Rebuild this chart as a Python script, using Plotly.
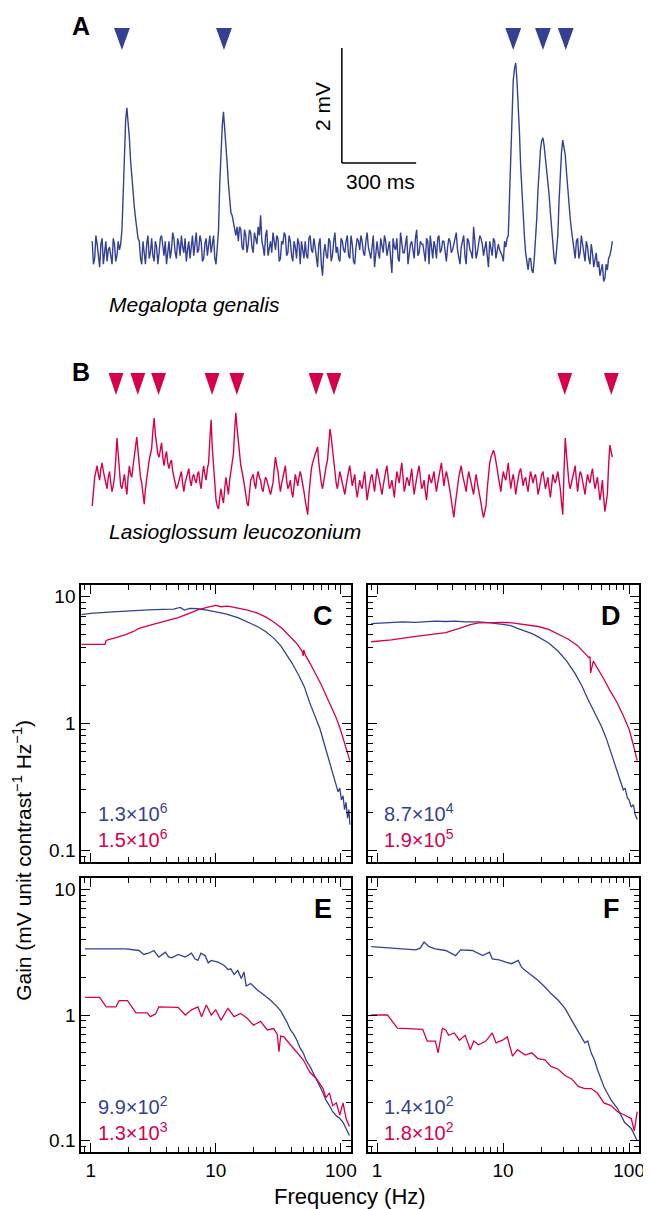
import plotly.graph_objects as go

PAGE_W, PAGE_H = 651, 1209
BODY = 8  # default page body margin in the written html
W, H = PAGE_W - BODY, PAGE_H - BODY
BLUE = "rgb(52,64,148)"
RED = "rgb(214,0,76)"
FONT = "Liberation Sans, Arial, Helvetica, sans-serif"

# ---------------- Panel A / B traces (mV) ----------------
# main samples every 10 ms, plus the in-between samples (t + 5 ms) read separately
sample_ms = 10
trace_A_mv = [
    0.1, -0.2, 0.05, -0.35, 0.15, -0.1, -0.25, 0.0, -0.3, 0.05, -0.15, -0.05,
    0.3, 1.6, 2.42, 1.9, 1.2, 0.7, 0.35, 0.1, -0.3, -0.1,
    0.05, -0.2, 0.15, -0.25, 0.0, -0.1, 0.2, -0.15, -0.3, 0.1, -0.05, 0.15, -0.2, 0.05,
    0.2, -0.1, -0.25, 0.1, 0.0, -0.15, 0.25, -0.05, 0.1, -0.2, 0.15, 0.05, -0.1, 0.2, -0.3,
    0.3, 1.7, 2.35, 1.8, 1.1, 0.6, 0.45, 0.2,
    0.1, 0.3, -0.05, 0.2, 0.05, 0.25, -0.1, 0.15, 0.35, 0.55,
    0.0, 0.2, -0.15, 0.1, 0.25, -0.05, 0.15, -0.2, 0.05, 0.2,
    -0.1, 0.1, -0.25, 0.0, 0.15, -0.3, -0.05, 0.1, -0.2, 0.2,
    -0.1, 0.0, -0.35, 0.15, -0.5, 0.05, -0.2, 0.1, -0.15, 0.25,
    0.0, -0.25, 0.1, -0.1, 0.2, -0.2, 0.05, -0.3, 0.15, -0.05,
    0.1, -0.15, 0.25, -0.1, 0.0, -0.35, 0.1, -0.2, 0.05, 0.2,
    -0.15, 0.1, -0.45, 0.0, 0.15, -0.25, 0.05, -0.1, 0.2, -0.05,
    0.1, -0.2, 0.3, -0.1, 0.05, -0.15, 0.15, -0.3, 0.0, 0.1,
    -0.2, 0.2, -0.05, 0.1, -0.25, 0.15, -0.1, 0.05, 0.25, -0.15,
    0.0, 0.2, -0.3, 0.1, -0.1, 0.35, -0.2, 0.05, 0.15, -0.15,
    0.1, -0.35, 0.0, 0.15, -0.2, 0.05, -0.1, -0.25, 0.0,
    0.2, 1.6, 2.9, 3.2, 2.5, 1.4, 0.5, -0.1, -0.4, -0.2, -0.45, 0.1, 1.0, 1.7, 1.9,
    1.55, 1.2, 0.6, 0.0, -0.3, 0.2, 1.3, 1.86, 1.6, 1.0, 0.5, 0.1,
    -0.2, 0.15, -0.1, 0.05, -0.25, 0.0, -0.3, -0.1, -0.2, -0.35, -0.5, -0.3, -0.55,
    -0.4, -0.15, 0.1,
]
trace_A_mid_mv = [
    -0.3, 0.2, -0.15, 0.05, -0.3, 0.1, -0.05, -0.2, 0.15, -0.25, 0.1, 0.05,
    0.9, 2.2, 2.2, 1.5, 0.95, 0.5, 0.15, -0.2, 0.1, -0.3,
    0.2, -0.1, -0.15, 0.1, -0.3, 0.15, -0.05, 0.1, -0.1, -0.2, 0.25, -0.1, 0.15, -0.15,
    0.0, 0.15, -0.05, -0.2, 0.2, 0.05, -0.1, 0.2, -0.25, 0.05, -0.15, 0.2, 0.1, -0.2, 0.0,
    1.1, 2.1, 2.1, 1.45, 0.8, 0.55, 0.3, 0.35,
    0.35, 0.0, 0.3, -0.1, 0.3, 0.0, 0.25, 0.05, 0.2, 0.1,
    -0.15, 0.3, 0.0, -0.1, 0.1, 0.2, -0.25, 0.1, 0.25, -0.15,
    0.2, -0.15, 0.1, -0.2, 0.05, 0.1, -0.2, -0.15, 0.15, -0.05,
    0.15, -0.25, 0.05, -0.3, -0.1, -0.15, 0.15, -0.25, 0.1, -0.1,
    -0.2, 0.15, -0.05, 0.1, -0.15, 0.2, -0.25, 0.0, 0.1, 0.2,
    -0.1, 0.1, 0.0, -0.2, 0.2, -0.15, -0.1, 0.15, -0.1, 0.1,
    0.0, -0.2, 0.15, -0.05, -0.2, 0.25, -0.1, 0.1, -0.3, 0.05,
    -0.05, 0.15, -0.15, 0.1, 0.05, -0.25, 0.1, 0.2, -0.2, 0.0,
    0.15, -0.1, 0.1, -0.15, 0.0, 0.1, -0.05, 0.15, -0.05, -0.3,
    0.1, -0.15, 0.15, -0.05, -0.2, 0.1, -0.1, 0.2, 0.05, -0.05,
    -0.15, 0.1, -0.15, 0.1, -0.1, -0.05, -0.15, 0.1, 0.15,
    0.8, 2.3, 3.1, 2.9, 2.0, 0.9, 0.2, -0.3, -0.2, -0.4, -0.2, 0.5, 1.4, 1.85, 1.75,
    1.4, 0.9, 0.3, -0.2, -0.1, 0.8, 1.65, 1.75, 1.3, 0.75, 0.3, -0.1,
    0.1, -0.2, 0.2, -0.15, 0.1, -0.2, 0.05, -0.35, -0.1, -0.25, -0.4, -0.6, -0.3,
    -0.2, -0.05,
]
trace_B_mv = [
    -0.4, 0.1, 0.3, 0.05, 0.35, 0.1, -0.1, 0.2, -0.15, 0.1,
    0.78, 0.2, -0.1, 0.15, -0.2, 0.3, 0.1, 0.45, 0.8, 0.3,
    0.0, -0.37, 0.1, 0.4, 0.6, 1.13, 0.6, 0.45, 0.7, 0.3,
    0.55, 0.25, 0.4, 0.1, -0.1, 0.05, 0.2, -0.15, 0.1, 0.25,
    -0.05, 0.15, 0.0, 0.2, -0.1, 0.3, 0.05, 0.35, 1.1, 0.3,
    -0.3, -0.45, -0.1, -0.35, 0.1, -0.2, 0.2, 0.5, 1.22, 0.7,
    0.3, 0.1, -0.2, -0.4, 0.05, 0.15, -0.1, 0.2, 0.05, -0.15,
    0.1, -0.05, -0.2, 0.0, 0.45, 0.2, -0.15, 0.1, 0.3, -0.1,
    0.05, -0.25, 0.15, -0.05, 0.2, 0.0, -0.3, -0.55, 0.1, 0.35,
    0.5, 0.63, 0.1, -0.1, 0.2, 0.4, 0.94, 0.6, 0.15, -0.1,
    0.2, 0.0, -0.2, 0.1, 0.3, -0.05, 0.15, -0.25, 0.05, -0.1,
    0.2, -0.3, 0.0, 0.15, -0.15, 0.25, 0.05, -0.2, 0.1, 0.3,
    -0.1, 0.05, -0.25, 0.2, 0.0, 0.35, -0.15, 0.1, -0.05, 0.25,
    -0.2, 0.1, 0.3, -0.1, 0.05, -0.3, 0.15, 0.0, 0.2, -0.15,
    0.1, 0.35, -0.05, 0.2, 0.0, -0.3, -0.6, -0.2, 0.1, 0.3,
    0.05, -0.15, 0.2, 0.0, -0.2, 0.15, -0.1, -0.35, -0.6, -0.4,
    0.2, 0.45, 0.57, 0.4, 0.1, -0.15, 0.2, 0.05, 0.35, -0.1,
    0.15, -0.2, 0.1, 0.25, -0.05, 0.1, -0.15, 0.2, 0.0, 0.15,
    -0.2, 0.05, 0.2, -0.1, 0.1, -0.25, 0.15, 0.0, 0.2, -0.1,
    -0.55, 0.78, 0.2, -0.1, 0.1, 0.3, -0.15, 0.2, 0.05, -0.2,
    0.15, 0.0, 0.25, -0.1, 0.1, -0.3, 0.05, -0.5, -0.2, 0.66,
    0.45,
]
trace_B_mid_mv = [
    -0.1, 0.2, 0.15, 0.25, 0.2, -0.05, 0.1, 0.0, -0.05, 0.4,
    0.5, -0.05, 0.05, -0.05, 0.1, 0.15, 0.3, 0.6, 0.55, 0.1,
    -0.2, -0.1, 0.25, 0.5, 0.9, 0.85, 0.5, 0.6, 0.45, 0.45,
    0.35, 0.35, 0.2, -0.05, -0.05, 0.15, 0.0, 0.0, 0.2, 0.05,
    0.1, 0.05, 0.15, 0.0, 0.15, 0.15, 0.25, 0.75, 0.6, -0.05,
    -0.4, -0.25, -0.25, -0.1, -0.05, 0.05, 0.35, 0.9, 0.95, 0.45,
    0.2, -0.05, -0.35, -0.15, 0.1, 0.0, 0.1, 0.1, -0.1, 0.0,
    0.05, -0.15, -0.1, 0.25, 0.3, 0.0, 0.0, 0.2, 0.05, -0.05,
    -0.15, -0.05, 0.05, 0.1, 0.1, -0.15, -0.45, -0.2, 0.25, 0.45,
    0.55, 0.35, 0.0, 0.05, 0.3, 0.7, 0.8, 0.35, 0.0, 0.05,
    0.1, -0.1, -0.05, 0.2, 0.1, 0.05, -0.1, -0.1, -0.05, 0.05,
    -0.05, -0.15, 0.1, 0.0, 0.05, 0.15, -0.1, -0.05, 0.2, 0.1,
    -0.05, -0.1, 0.0, 0.1, 0.2, 0.1, -0.05, 0.05, 0.1, 0.0,
    -0.05, 0.2, 0.1, -0.05, -0.15, -0.05, 0.05, 0.1, 0.0, 0.0,
    0.25, 0.15, 0.1, 0.1, -0.15, -0.45, -0.4, -0.05, 0.2, 0.15,
    -0.05, 0.05, 0.1, -0.1, 0.0, 0.0, -0.25, -0.5, -0.5, -0.1,
    0.35, 0.5, 0.5, 0.25, -0.05, 0.05, 0.1, 0.2, 0.1, 0.05,
    0.0, -0.05, 0.2, 0.1, 0.05, -0.05, 0.05, 0.1, 0.1, 0.0,
    -0.1, 0.15, 0.05, 0.0, -0.1, -0.05, 0.05, 0.1, 0.05, -0.35,
    0.2, 0.5, 0.0, 0.0, 0.2, 0.05, 0.05, 0.15, -0.1, 0.0,
    0.05, 0.15, 0.05, 0.0, -0.1, -0.15, -0.25, -0.35, 0.3, 0.55,
]
events_A_ms = [120, 532, 1700, 1820, 1912]
events_B_ms = [96, 184, 268, 484, 584, 904, 976, 1908, 2096]

# ---------------- Frequency responses (Hz, gain) ----------------
C_blue_f = [0.84, 1.0, 1.5, 2.0, 2.9, 3.8, 4.6, 5.2, 5.6, 6.2, 7.2, 8.5, 10, 12, 15, 18, 21.5, 25, 29,
            33, 37, 41, 46, 51, 56, 62, 68, 74, 81, 86, 92, 95, 98, 101, 104, 107, 110, 113, 116, 118]
C_blue_g = [7.2, 7.35, 7.55, 7.7, 7.85, 7.9, 7.95, 8.2, 7.8, 8.05, 8.0, 7.8, 7.6, 7.3, 6.8, 6.3, 5.8, 5.3, 4.7,
            4.1, 3.46, 2.95, 2.4, 1.95, 1.48, 1.15, 0.91, 0.68, 0.5, 0.42, 0.33, 0.29, 0.31, 0.25, 0.27, 0.21,
            0.24, 0.18, 0.21, 0.16]
C_red_f = [0.84, 1.3, 1.33, 1.41, 1.6, 1.9, 2.2, 2.43, 2.9, 3.5, 4.2, 5.0, 6.0, 7.2, 8.5, 10, 11, 12.5, 15, 18,
           21.5, 25, 29, 34, 39.5, 45, 49, 50, 50.5, 52, 57, 64, 70, 76, 84, 92, 99, 106, 112, 118]
C_red_g = [4.2, 4.2, 4.5, 4.6, 4.75, 5.0, 5.3, 5.6, 5.9, 6.2, 6.5, 6.8, 7.3, 7.85, 8.2, 8.5, 8.3, 8.4, 8.1, 7.8,
           7.4, 6.9, 6.3, 5.6, 4.8, 4.2, 3.7, 3.4, 3.8, 3.45, 2.95, 2.4, 2.0, 1.67, 1.35, 1.1, 0.9, 0.72, 0.62, 0.51]

D_blue_f = [0.9, 1.2, 1.6, 2.0, 2.4, 2.9, 3.5, 4.2, 5.0, 6.4, 8.0, 9.9, 11.5, 13, 15, 17, 19, 23, 27, 32, 37,
            42, 47, 53, 60, 66, 72, 79, 86, 90, 93, 97, 100, 104, 108, 112, 116]
D_blue_g = [6.1, 6.2, 6.3, 6.25, 6.35, 6.4, 6.35, 6.4, 6.3, 6.3, 6.2, 6.0, 5.9, 5.6, 5.3, 5.1, 4.8, 4.3, 3.75,
            3.1, 2.5, 2.0, 1.56, 1.22, 0.96, 0.76, 0.59, 0.45, 0.34, 0.3, 0.31, 0.26, 0.25, 0.22, 0.23, 0.19, 0.176]
D_red_f = [0.9, 1.3, 1.9, 2.5, 3.5, 4.5, 5.5, 6.4, 8, 10, 11.8, 15, 19, 23, 27, 33, 39, 44, 48, 49, 49.5, 52,
           56, 63, 71, 80, 90, 100, 108, 116]
D_red_g = [4.4, 4.55, 4.8, 5.0, 5.2, 5.6, 6.0, 6.2, 6.25, 6.25, 6.2, 6.0, 5.8, 5.5, 5.1, 4.6, 4.1, 3.6, 3.3,
           3.35, 2.5, 3.1, 2.75, 2.24, 1.8, 1.47, 1.15, 0.9, 0.68, 0.51]

E_blue_f = [0.9, 1.9, 2.43, 2.66, 2.9, 3.2, 3.5, 3.95, 4.2, 4.45, 5.0, 5.7, 6.4, 6.8, 7.2, 7.6, 8.2, 8.7, 9.2,
            10.4, 11.7, 12.5, 13.2, 14, 15, 16, 16.8, 17.5, 19, 21.5, 24.3, 27.4, 31, 33, 35, 37, 39.5, 42,
            44.5, 47, 50, 53, 56.6, 60, 64, 68, 72, 76, 81, 86, 92, 98, 104, 110, 117]
E_blue_g = [3.36, 3.36, 3.26, 3.03, 3.1, 3.26, 2.89, 3.16, 2.9, 2.85, 3.03, 2.89, 3.1, 2.8, 2.72, 3.1, 2.97, 2.6,
            2.72, 2.63, 2.48, 2.3, 2.33, 2.1, 2.26, 1.95, 2.2, 1.7, 1.78, 1.58, 1.44, 1.31, 1.16, 1.08, 0.97,
            0.88, 0.76, 0.7, 0.63, 0.55, 0.5, 0.43, 0.39, 0.35, 0.31, 0.27, 0.24, 0.21, 0.19, 0.17, 0.158,
            0.15, 0.14, 0.125, 0.11]
E_red_f = [0.9, 1.18, 1.33, 1.59, 1.69, 1.97, 2.3, 2.83, 3.0, 3.3, 3.5, 5.0, 5.7, 6.4, 7.2, 7.7, 8.4, 9.2, 10,
           11, 12.5, 14, 15.8, 17.9, 20, 22.8, 25.8, 29, 31, 32, 33, 35, 39.5, 44.5, 50, 56.6, 64, 72, 76, 81,
           86, 92, 98, 104, 110, 117]
E_red_g = [1.38, 1.38, 1.16, 1.16, 1.3, 1.3, 1.04, 1.04, 0.97, 1.02, 1.16, 1.15, 1.0, 1.1, 1.16, 0.97, 1.2, 1.0,
           1.1, 0.91, 1.13, 0.97, 1.03, 0.94, 0.83, 0.89, 0.76, 0.78, 0.7, 0.51, 0.68, 0.67, 0.58, 0.5, 0.44,
           0.35, 0.31, 0.26, 0.22, 0.24, 0.19, 0.2, 0.16, 0.2, 0.15, 0.13]

F_blue_f = [0.9, 2.03, 2.2, 2.36, 2.58, 2.9, 3.5, 4.2, 4.6, 5.7, 6.9, 7.8, 8.2, 9.3, 10.5, 11.7, 13.2, 14, 15,
            16.9, 18.9, 21.5, 24, 27.4, 31, 35, 39.5, 44.5, 47, 50, 53, 56, 63, 72, 81, 92, 104, 116]
F_blue_g = [3.5, 3.3, 3.4, 3.8, 3.5, 3.36, 3.26, 2.97, 3.3, 3.26, 2.97, 3.16, 2.8, 2.75, 2.63, 2.56, 2.72, 2.4,
            2.26, 2.07, 1.89, 1.67, 1.48, 1.31, 1.13, 0.91, 0.74, 0.6, 0.62, 0.5, 0.44, 0.37, 0.27, 0.21,
            0.18, 0.14, 0.125, 0.1]
F_red_f = [0.9, 1.21, 1.45, 2.3, 2.5, 2.9, 3.05, 3.3, 3.5, 3.7, 4.1, 4.5, 5.0, 5.5, 5.85, 6.4, 7.3, 8.2, 8.8,
           9.9, 10.8, 11.9, 13, 15, 16.9, 18.9, 21.5, 24, 27.4, 31, 35, 39.5, 44.5, 50, 56, 63, 72, 81, 92,
           104, 110, 116]
F_red_g = [1.0, 1.0, 0.785, 0.77, 0.62, 0.62, 0.5, 0.785, 0.76, 0.69, 0.72, 0.63, 0.69, 0.53, 0.62, 0.58, 0.62,
           0.72, 0.6, 0.63, 0.67, 0.47, 0.53, 0.48, 0.5, 0.45, 0.44, 0.39, 0.37, 0.33, 0.31, 0.27, 0.26, 0.26,
           0.24, 0.2, 0.19, 0.17, 0.16, 0.15, 0.12, 0.17]

panel_letters = ["C", "D", "E", "F"]
gain_labels = [("1.3×10<sup>6</sup>", "1.5×10<sup>6</sup>"),
               ("8.7×10<sup>4</sup>", "1.9×10<sup>5</sup>"),
               ("9.9×10<sup>2</sup>", "1.3×10<sup>3</sup>"),
               ("1.4×10<sup>2</sup>", "1.8×10<sup>2</sup>")]
y_ticks = [0.1, 1, 10]
y_ticktext = ["0.1", "1", "10"]
x_ticks = [1, 10, 100]
x_ticktext = ["1", "10", "100"]


def px_x(p):
    return (p - BODY) / W


def px_y(p):
    return 1 - (p - BODY) / H


annots = []


def label(xp, yp, text, size=19, color="black", xanchor="center", yanchor="middle", angle=0):
    annots.append(dict(x=px_x(xp), y=px_y(yp), xref="paper", yref="paper", text=text,
                       xanchor=xanchor, yanchor=yanchor, textangle=angle, showarrow=False,
                       font=dict(size=size, family=FONT, color=color)))


def interleave(main, mid, step):
    t, v = [], []
    for i, val in enumerate(main):
        t.append(i * step)
        v.append(val)
        if i < len(mid):
            t.append(i * step + step / 2)
            v.append(mid[i])
    return t, v


fig = go.Figure()

# ---- invisible axes for traces A and B (px 93 -> t = 0, 4 ms per px) ----
ms_per_px = 4.0
t_lo, t_hi = (40 - 93) * ms_per_px, (650 - 93) * ms_per_px
fig.update_layout(
    xaxis=dict(domain=[px_x(40), px_x(650)], range=[t_lo, t_hi], visible=False, anchor="y"),
    yaxis=dict(domain=[px_y(300), px_y(20)], range=[(247 - 300) / 57.5, (247 - 20) / 57.5],
               visible=False, anchor="x"),
    xaxis2=dict(domain=[px_x(40), px_x(650)], range=[t_lo, t_hi], visible=False, anchor="y2"),
    yaxis2=dict(domain=[px_y(545), px_y(360)], range=[(483 - 545) / 57.5, (483 - 360) / 57.5],
                visible=False, anchor="x2"),
)

tA, vA = interleave(trace_A_mv, trace_A_mid_mv, sample_ms)
tB, vB = interleave(trace_B_mv, trace_B_mid_mv, sample_ms)
fig.add_trace(go.Scatter(x=tA, y=vA, mode="lines", line=dict(color=BLUE, width=1.4),
                         xaxis="x", yaxis="y", hoverinfo="skip"))
fig.add_trace(go.Scatter(x=tB, y=vB, mode="lines", line=dict(color=RED, width=1.4),
                         xaxis="x2", yaxis="y2", hoverinfo="skip"))


def tri_path(events, top, tip, hw):
    xs, ys = [], []
    for e in events:
        xs += [e - hw, e + hw, e, e - hw, None]
        ys += [top, top, tip, top, None]
    return xs, ys


xs, ys = tri_path(events_A_ms, (247 - 28) / 57.5, (247 - 50) / 57.5, 32)
fig.add_trace(go.Scatter(x=xs, y=ys, mode="lines", fill="toself", fillcolor=BLUE,
                         line=dict(width=0, color=BLUE), xaxis="x", yaxis="y", hoverinfo="skip"))
xs, ys = tri_path(events_B_ms, (483 - 373) / 57.5, (483 - 395) / 57.5, 30)
fig.add_trace(go.Scatter(x=xs, y=ys, mode="lines", fill="toself", fillcolor=RED,
                         line=dict(width=0, color=RED), xaxis="x2", yaxis="y2", hoverinfo="skip"))

# scale bar (2 mV, 300 ms)
bar_t0 = 1008
bar_v0 = (247 - 163) / 57.5
fig.add_shape(type="line", xref="x", yref="y", x0=bar_t0, x1=bar_t0, y0=bar_v0, y1=bar_v0 + 2,
              line=dict(color="black", width=1.5))
fig.add_shape(type="line", xref="x", yref="y", x0=bar_t0, x1=bar_t0 + 300, y0=bar_v0, y1=bar_v0,
              line=dict(color="black", width=1.5))

label(326, 107, "2 mV", size=21, angle=-90)
label(384, 181, "300 ms", size=21)
label(108, 304, "<i>Megalopta genalis</i>", size=21, xanchor="left")
label(108, 531, "<i>Lasioglossum leucozonium</i>", size=21, xanchor="left")
label(82, 26, "<b>A</b>", size=25)
label(82, 372, "<b>B</b>", size=25)

# ---- frequency panels ----
panels = [
    dict(x=(82, 354), y=(585, 862), curves=((C_blue_f, C_blue_g), (C_red_f, C_red_g)), left=True, bottom=False),
    dict(x=(371, 645), y=(585, 862), curves=((D_blue_f, D_blue_g), (D_red_f, D_red_g)), left=False, bottom=False),
    dict(x=(82, 354), y=(878, 1152), curves=((E_blue_f, E_blue_g), (E_red_f, E_red_g)), left=True, bottom=True),
    dict(x=(371, 645), y=(878, 1152), curves=((F_blue_f, F_blue_g), (F_red_f, F_red_g)), left=False, bottom=True),
]

for k, p in enumerate(panels):
    n = k + 3
    xa, ya = f"xaxis{n}", f"yaxis{n}"
    common = dict(type="log", showline=True, linewidth=2, linecolor="black", mirror="allticks",
                  ticks="inside", ticklen=9, tickwidth=1.2, tickcolor="black", showgrid=False,
                  zeroline=False, tickfont=dict(size=19, family=FONT, color="black"),
                  minor=dict(ticks="inside", ticklen=5, tickwidth=1, tickcolor="black",
                             dtick="D1", showgrid=False))
    fig.update_layout({
        xa: dict(common, domain=[px_x(p["x"][0]), px_x(p["x"][1])], range=[-0.075, 2.079],
                 anchor=f"y{n}", tickvals=x_ticks, ticktext=x_ticktext,
                 showticklabels=p["bottom"]),
        ya: dict(common, domain=[px_y(p["y"][1]), px_y(p["y"][0])], range=[-1.09, 1.09],
                 anchor=f"x{n}", tickvals=y_ticks, ticktext=y_ticktext,
                 showticklabels=p["left"]),
    })
    (bf, bg), (rf, rg) = p["curves"]
    fig.add_trace(go.Scatter(x=bf, y=bg, mode="lines", line=dict(color=BLUE, width=1.3),
                             xaxis=f"x{n}", yaxis=f"y{n}", hoverinfo="skip"))
    fig.add_trace(go.Scatter(x=rf, y=rg, mode="lines", line=dict(color=RED, width=1.3),
                             xaxis=f"x{n}", yaxis=f"y{n}", hoverinfo="skip"))
    label(p["x"][1] - 28, p["y"][0] + 31, f"<b>{panel_letters[k]}</b>", size=27)
    lb, lr = gain_labels[k]
    label(p["x"][0] + 15, p["y"][0] + 227, lb, size=20, color=BLUE, xanchor="left")
    label(p["x"][0] + 15, p["y"][0] + 253, lr, size=20, color=RED, xanchor="left")

label(22, 860, "Gain (mV unit contrast<sup>−1</sup> Hz<sup>−1</sup>)", size=21, angle=-90)
label(353, 1196, "Frequency (Hz)", size=22)

fig.update_layout(
    width=W, height=H, margin=dict(l=0, r=0, t=0, b=0, pad=0),
    paper_bgcolor="white", plot_bgcolor="white", showlegend=False,
    annotations=annots,
)

fig.write_html("out.html")
